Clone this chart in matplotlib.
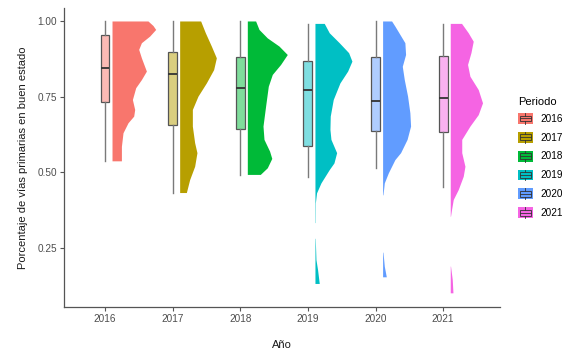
import matplotlib
matplotlib.use("Agg")
import matplotlib.pyplot as plt
from matplotlib.patches import Rectangle, Patch
from matplotlib.lines import Line2D
from matplotlib.legend_handler import HandlerBase

plt.rcParams['font.family'] = ['Liberation Sans', 'DejaVu Sans']

years = ['2016', '2017', '2018', '2019', '2020', '2021']
colors = ['#F8766D', '#B79F00', '#00BA38', '#00BFC4', '#619CFF', '#F564E3']

# boxplot stats
whislo = [0.537, 0.432, 0.491, 0.484, 0.514, 0.452]
q1 = [0.732, 0.656, 0.644, 0.588, 0.638, 0.635]
med = [0.846, 0.827, 0.779, 0.773, 0.738, 0.746]
q3 = [0.955, 0.898, 0.883, 0.868, 0.881, 0.885]
whishi = [1.0, 1.0, 1.0, 0.992, 1.0, 0.992]

# half violins: value and relative density
v2016_val = [1.0, 0.985, 0.972, 0.95, 0.928, 0.906, 0.878, 0.834, 0.806, 0.779, 0.74, 0.707, 0.685, 0.663, 0.63, 0.585, 0.537]
v2016_den = [36.0, 41, 43.7, 37.7, 29.4, 26.7, 29.4, 34.4, 29.4, 23.7, 20.4, 22.7, 21.7, 16.0, 11.0, 9.4, 9.4]

v2017_val = [1.0, 0.961, 0.917, 0.878, 0.839, 0.795, 0.751, 0.707, 0.652, 0.597, 0.564, 0.519, 0.475, 0.432]
v2017_den = [21, 25.7, 31.7, 36.7, 34, 26.7, 18.3, 12.7, 12.7, 15, 17.3, 15, 10, 6.7]

v2018_val = [1.0, 0.972, 0.944, 0.917, 0.889, 0.856, 0.823, 0.784, 0.718, 0.652, 0.608, 0.569, 0.545, 0.514, 0.492]
v2018_den = [8.3, 11.7, 20, 31.7, 40, 33.3, 25, 21, 18.3, 15.7, 16.7, 22.3, 24.5, 20, 13]

v2019_val = [0.992, 0.961, 0.928, 0.895, 0.867, 0.834, 0.795, 0.74, 0.685, 0.641, 0.608, 0.564, 0.53, 0.508,
             0.464, 0.431, 0.398, 0.333, 0.332, 0.281, 0.28, 0.21, 0.177, 0.131]
v2019_den = [9.3, 14.3, 24.3, 33.7, 37, 32.7, 25, 18.3, 15.3, 15, 16, 21.7, 19, 14.3,
             6, 1.6, 0.4, 0.3, 0, 0, 0.3, 1.0, 2.6, 4.3]

v2020_val = [1.0, 0.983, 0.961, 0.928, 0.889, 0.85, 0.806, 0.751, 0.696, 0.652, 0.608, 0.564, 0.541,
             0.497, 0.464, 0.425, 0.424, 0.235, 0.234, 0.188, 0.153]
v2020_den = [9, 12.3, 16.3, 22.3, 23, 19.7, 21.7, 25, 27.3, 28, 24.5, 18, 12.3,
             5.7, 1.7, 0.4, 0, 0, 0.4, 1.7, 3.7]

v2021_val = [0.992, 0.961, 0.933, 0.895, 0.856, 0.817, 0.773, 0.729, 0.69, 0.652, 0.608, 0.564, 0.519,
             0.486, 0.442, 0.409, 0.376, 0.354, 0.353, 0.189, 0.188, 0.144, 0.1]
v2021_den = [11.3, 18, 23, 20.7, 17.3, 19.7, 28, 32.3, 28, 19.7, 11.5, 11.5, 14.7,
             13, 8, 3, 1.3, 0.3, 0, 0, 0.3, 2, 2.7]

violin_val = [v2016_val, v2017_val, v2018_val, v2019_val, v2020_val, v2021_val]
violin_den = [v2016_den, v2017_den, v2018_den, v2019_den, v2020_den, v2021_den]

fig = plt.figure(figsize=(5.63, 3.52), dpi=100)
ax = fig.add_axes([0.1137, 0.1281, 0.8881 - 0.1137, 0.9776 - 0.1281])

pos = list(range(len(years)))
scale = 1 / 67.7
offset = 0.112

for i in pos:
    left = [pos[i] + offset] * len(violin_val[i])
    right = [pos[i] + offset + d * scale for d in violin_den[i]]
    ax.fill_betweenx(violin_val[i], left, right, facecolor=colors[i], edgecolor='none', lw=0)

stats = []
for i in pos:
    stats.append({'med': med[i], 'q1': q1[i], 'q3': q3[i], 'whislo': whislo[i], 'whishi': whishi[i]})

bp = ax.bxp(stats, positions=pos, widths=0.13, patch_artist=True, showcaps=False, showfliers=False,
            boxprops=dict(edgecolor='#555555', linewidth=0.9),
            whiskerprops=dict(color='#7a7a7a', linewidth=1.0),
            medianprops=dict(color='#333333', linewidth=1.3))
for b, c in zip(bp['boxes'], colors):
    b.set_facecolor(matplotlib.colors.to_rgba(c, 0.5))

ax.set_xlim(-0.605, 5.84)
ax.set_ylim(0.055, 1.045)
ax.set_xticks(pos)
ax.set_xticklabels(years)
ax.set_yticks([0.25, 0.5, 0.75, 1.0])
ax.set_yticklabels(['0.25', '0.50', '0.75', '1.00'])
for s in ['top', 'right']:
    ax.spines[s].set_visible(False)
for s in ['left', 'bottom']:
    ax.spines[s].set_color('#555555')
    ax.spines[s].set_linewidth(0.9)
ax.tick_params(axis='both', colors='#555555', labelcolor='#4d4d4d', labelsize=7.2, length=2.7, width=0.8, pad=2.2)

ax.set_xlabel('Año', fontsize=8, color='#1a1a1a', labelpad=12)
ax.set_ylabel('Porcentaje de vías primarias en buen estado', fontsize=8, color='#1a1a1a', labelpad=7)


class BoxKey(HandlerBase):
    def create_artists(self, legend, orig_handle, xdescent, ydescent, width, height, fontsize, trans):
        c = orig_handle.get_facecolor()
        x0, y0 = -xdescent, -ydescent
        cx = x0 + width / 2
        bg = Rectangle((x0, y0), width, height, facecolor=c, edgecolor='none', transform=trans)
        box = Rectangle((x0 + width * 0.12, y0 + height * 0.25), width * 0.76, height * 0.5,
                        facecolor=c, edgecolor='#333333', lw=0.6, transform=trans)
        mline = Line2D([x0 + width * 0.12, x0 + width * 0.88], [y0 + height / 2] * 2, color='#333333', lw=0.6, transform=trans)
        w1 = Line2D([cx, cx], [y0, y0 + height * 0.25], color='#333333', lw=0.6, transform=trans)
        w2 = Line2D([cx, cx], [y0 + height * 0.75, y0 + height], color='#333333', lw=0.6, transform=trans)
        return [bg, box, mline, w1, w2]


handles = [Patch(facecolor=c) for c in colors]
leg = fig.legend(handles, years, loc='upper left', bbox_to_anchor=(0.9195, 0.7255), frameon=False,
                 title='Periodo', fontsize=7.2, title_fontsize=8, handler_map={Patch: BoxKey()},
                 handlelength=1.55, handleheight=1.3, handletextpad=0.7, labelspacing=0.8,
                 borderpad=0, borderaxespad=0)
leg._legend_box.align = 'left'
leg._legend_box.sep = 4.5

fig.savefig('out.png', dpi=100)
